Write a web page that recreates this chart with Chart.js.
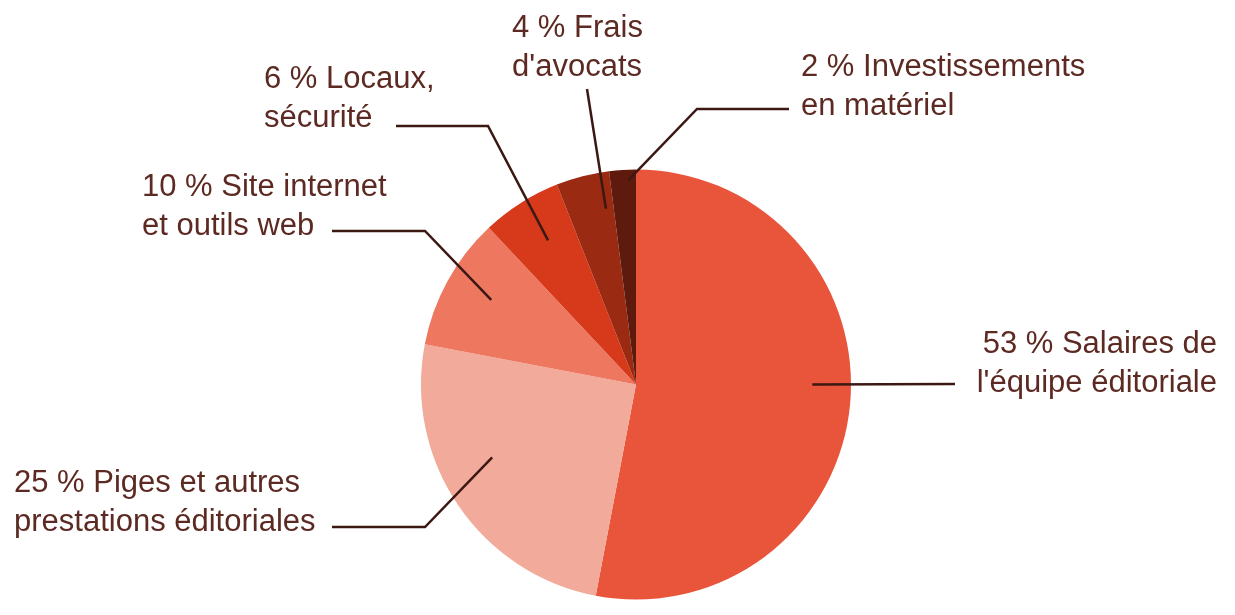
<!DOCTYPE html>
<html lang="fr">
<head>
<meta charset="utf-8">
<title>Répartition des dépenses</title>
<script src="https://cdn.jsdelivr.net/npm/chart.js@4/dist/chart.umd.min.js"></script>
<style>
    html, body { margin: 0; padding: 0; background: #ffffff; }
    #wrap { width: 1235px; height: 615px; }
</style>
</head>
<body>
<div id="wrap"><canvas id="budgetPie" width="1235" height="615"></canvas></div>
<script>
// --- DATA ---
const categories = [
    ["Salaires de", "l'équipe éditoriale"],
    ["Piges et autres", "prestations éditoriales"],
    ["Site internet", "et outils web"],
    ["Locaux,", "sécurité"],
    ["Frais", "d'avocats"],
    ["Investissements", "en matériel"]
];
const shares = [53, 25, 10, 6, 4, 2];
const sliceColors = ["#e8553a", "#f2aa9a", "#ee7760", "#d63a1b", "#9a2a12", "#5e1a0c"];

// --- LABEL LAYOUT ---
// anchor: offset from slice mid-angle (deg) and fraction of radius
// path: points the leader line runs through after the anchor
// text: first baseline, x, alignment
const labelLayout = [
    { da: -5.4, rf: 0.82, path: [[955, 384]], x: 1217, y: 353, align: "right" },
    { da: 7.3, rf: 0.75, path: [[425, 527], [332, 527]], x: 14, y: 492, align: "left" },
    { da: 1.5, rf: 0.78, path: [[425, 231], [332, 231]], x: 142, y: 196, align: "left" },
    { da: 1.0, rf: 0.785, path: [[488, 126], [396, 126]], x: 264, y: 88, align: "left" },
    { da: 4.7, rf: 0.83, path: [[587, 89]], x: 512, y: 37, align: "left" },
    { da: 1.4, rf: 0.95, path: [[697, 109], [789, 109]], x: 801, y: 76, align: "left" }
];

const TEXT_COLOR = "#5c2a22";
const LINE_COLOR = "#3b1812";
const LINE_GAP = 38.5;

/**
 * Leader lines + two-line labels drawn after the pie
 */
const leaderLabels = {
    id: "leaderLabels",
    afterDraw(chart) {
        const ctx = chart.ctx;
        const arcs = chart.getDatasetMeta(0).data;
        ctx.save();
        arcs.forEach((arc, i) => {
            const lay = labelLayout[i];
            const p = arc.getProps(["x", "y", "startAngle", "endAngle", "outerRadius"], true);
            const mid = (p.startAngle + p.endAngle) / 2 + lay.da * Math.PI / 180;
            const ax = p.x + Math.cos(mid) * p.outerRadius * lay.rf;
            const ay = p.y + Math.sin(mid) * p.outerRadius * lay.rf;

            ctx.beginPath();
            ctx.moveTo(ax, ay);
            lay.path.forEach(pt => ctx.lineTo(pt[0], pt[1]));
            ctx.strokeStyle = LINE_COLOR;
            ctx.lineWidth = 2.5;
            ctx.lineJoin = "miter";
            ctx.stroke();

            const lines = chart.data.labels[i].slice();
            lines[0] = shares[i] + " % " + lines[0];
            ctx.fillStyle = TEXT_COLOR;
            ctx.font = "31px 'Liberation Sans', Arial, sans-serif";
            ctx.textAlign = lay.align;
            ctx.textBaseline = "alphabetic";
            lines.forEach((txt, k) => ctx.fillText(txt, lay.x, lay.y + k * LINE_GAP));
        });
        ctx.restore();
    }
};

new Chart(document.getElementById("budgetPie"), {
    type: "pie",
    data: {
        labels: categories,
        datasets: [{
            data: shares,
            backgroundColor: sliceColors,
            borderWidth: 0
        }]
    },
    options: {
        responsive: false,
        devicePixelRatio: 1,
        animation: false,
        layout: { padding: { top: 169, bottom: 15, left: 421, right: 384 } },
        plugins: {
            legend: { display: false },
            tooltip: { enabled: false }
        }
    },
    plugins: [leaderLabels]
});
</script>
</body>
</html>
